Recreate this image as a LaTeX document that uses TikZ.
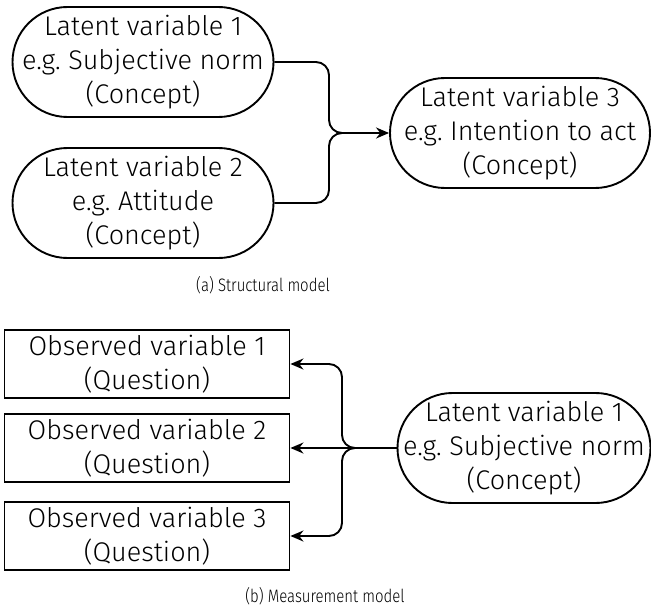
\documentclass[tikz,border=0pt]{standalone}
\usepackage{fontspec}
\setmainfont{Fira Sans}[UprightFont=* Light]
\newfontfamily\capfont{Fira Sans}[UprightFont=* Light, FakeStretch=0.83]
\usetikzlibrary{arrows.meta}

\begin{document}
\frenchspacing
\begin{tikzpicture}[x=1pt, y=-1pt, line width=1.9pt, align=center, >={Stealth[length=13pt, width=11pt]},
	latent/.style={rectangle, rounded corners=55pt, draw, minimum height=110pt, inner sep=0pt, font=\fontsize{27}{34}\selectfont},
	observed/.style={rectangle, draw, minimum width=285pt, minimum height=68pt, inner sep=0pt, font=\fontsize{27}{34}\selectfont},
	caption/.style={font=\capfont\fontsize{18}{22}\selectfont}]
\useasboundingbox (0, 0) rectangle (651, 610);

% structural model
\path (143, 62) node[latent, minimum width=261pt] (lv1) {Latent variable 1\\e.g. Subjective norm\\(Concept)}
	  (143, 203) node[latent, minimum width=261pt] (lv2) {Latent variable 2\\e.g. Attitude\\(Concept)}
	  (520, 133) node[latent, minimum width=260pt] (lv3) {Latent variable 3\\e.g. Intention to act\\(Concept)}
	  (329, 133) coordinate (j1)
	  (342, 133) coordinate (m1)
	  (263, 285) node[caption] (capa) {(a) Structural model};

\draw[rounded corners=13pt] (lv1.east) -| (j1) -- (m1);
\draw[rounded corners=13pt] (lv2.east) -| (j1) -- (m1);
\draw[->] (m1) -- (lv3.west);

% measurement model
\path (147, 364) node[observed] (ov1) {Observed variable 1\\(Question)}
	  (147, 448) node[observed] (ov2) {Observed variable 2\\(Question)}
	  (147, 536) node[observed] (ov3) {Observed variable 3\\(Question)}
	  (524, 448) node[latent, minimum width=253pt] (lv4) {Latent variable 1\\e.g. Subjective norm\\(Concept)}
	  (342, 448) coordinate (j2)
	  (356, 448) coordinate (m2)
	  (325, 596) node[caption] (capb) {(b) Measurement model};

\draw (lv4.west) -- (m2);
\draw[->, rounded corners=13pt] (m2) -- (j2) |- (ov1.east);
\draw[->] (m2) -- (ov2.east);
\draw[->, rounded corners=13pt] (m2) -- (j2) |- (ov3.east);
\end{tikzpicture}
\end{document}
